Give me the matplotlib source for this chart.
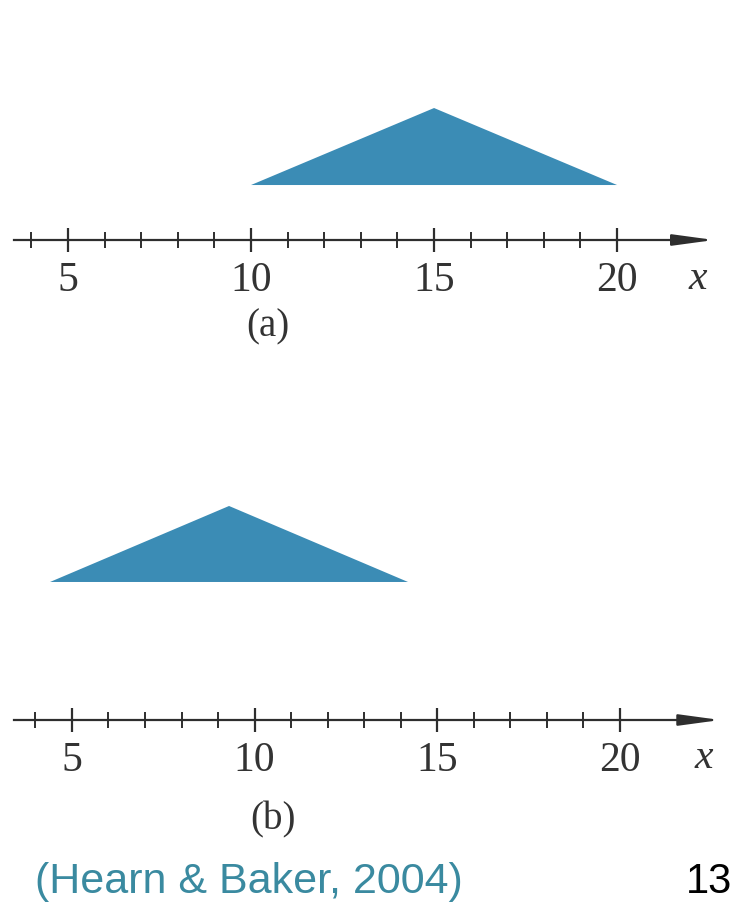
import matplotlib.pyplot as plt
import numpy as np

# Triangle shapes (x positions of left, apex, right; relative heights)
tri_a_x = [10, 15, 20]
tri_b_x = [4.4, 9.3, 14.2]
tri_y = [0, 1, 0]

# Number line ticks
major_ticks = [5, 10, 15, 20]
minor_ticks = list(range(4, 21))
tick_labels = ['5', '10', '15', '20']
panel_labels = ['(a)', '(b)']

serif = ['Liberation Serif', 'DejaVu Serif']
tri_color = '#3b8cb5'
line_color = '#2e2e2e'

fig = plt.figure(figsize=(7.43, 9.06), dpi=100)
fig.patch.set_facecolor('white')


def number_line(ax, xlim, ylim, line_start, line_end, tri_x, base):
    ax.set_xlim(*xlim)
    ax.set_ylim(*ylim)
    ax.set_facecolor('none')
    for s in ['top', 'right', 'left']:
        ax.spines[s].set_visible(False)
    ax.spines['bottom'].set_position(('data', 0))
    ax.spines['bottom'].set_bounds(line_start, line_end)
    ax.spines['bottom'].set_linewidth(1.6)
    ax.spines['bottom'].set_color(line_color)
    ax.set_yticks([])
    ax.set_xticks(major_ticks)
    ax.set_xticklabels(tick_labels, fontfamily=serif, fontsize=30, color='#333333')
    ax.set_xticks(minor_ticks, minor=True)
    ax.tick_params(axis='x', which='major', direction='inout', length=17, width=1.6,
                   color=line_color, pad=7)
    ax.tick_params(axis='x', which='minor', direction='inout', length=12, width=1.4,
                   color=line_color)
    # arrow head
    ax.annotate('', xy=(line_end + 1.05, 0), xytext=(line_end - 0.1, 0),
                arrowprops=dict(arrowstyle='-|>,head_length=1.25,head_width=0.17',
                                mutation_scale=20, color=line_color, lw=1.6,
                                shrinkA=0, shrinkB=0))
    ax.fill(tri_x, np.array(tri_y) + base, color=tri_color, lw=0)
    return ax


W, H = 743, 906

# panel (a): axes from 80px to 360px from top
ax_a = fig.add_axes([0, (H - 360) / H, 1, 280 / H])
number_line(ax_a, (3.142, 23.44), (-120 / 77, 160 / 77), 3.52, 21.6, tri_a_x, 0.714)
ax_a.text(22.2, -0.5, 'x', fontfamily=serif, fontstyle='italic', fontsize=30,
          color='#333333', ha='center', va='center')
ax_a.text(10.45, -1.13, panel_labels[0], fontfamily=serif, fontsize=28,
          color='#333333', ha='center', va='center')

# panel (b): axes from 470px to 850px from top
ax_b = fig.add_axes([0, (H - 850) / H, 1, 380 / H])
number_line(ax_b, (3.03, 23.37), (-130 / 76, 250 / 76), 3.41, 21.7, tri_b_x, 1.816)
ax_b.text(22.3, -0.5, 'x', fontfamily=serif, fontstyle='italic', fontsize=30,
          color='#333333', ha='center', va='center')
ax_b.text(10.5, -1.32, panel_labels[1], fontfamily=serif, fontsize=28,
          color='#333333', ha='center', va='center')

# source caption and page number
fig.text(35 / W, 1 - 882 / H, '(Hearn & Baker, 2004)', fontfamily=['Liberation Sans', 'DejaVu Sans'],
         fontsize=31, color='#3a8aa0', ha='left', va='center')
fig.text(732 / W, 1 - 882 / H, '13', fontfamily=['Liberation Sans', 'DejaVu Sans'],
         fontsize=30, color='black', ha='right', va='center')

fig.savefig('out.png', dpi=100)
